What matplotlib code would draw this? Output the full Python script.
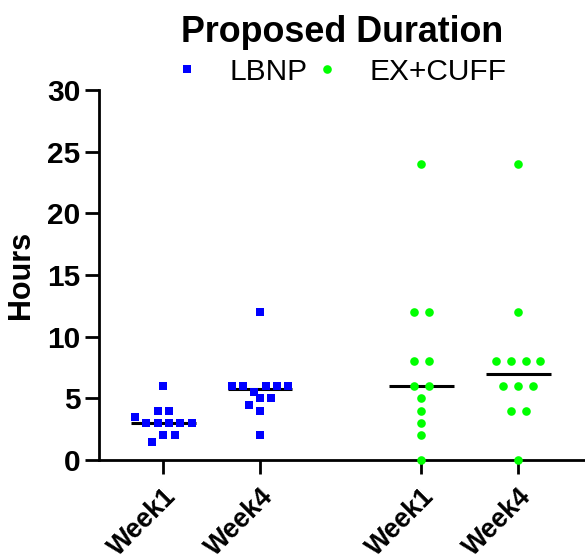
import numpy as np
import matplotlib
matplotlib.use("Agg")
import matplotlib.pyplot as plt
from matplotlib.transforms import ScaledTranslation

plt.rcParams['font.family'] = ['Liberation Sans', 'DejaVu Sans']

# ---- data ----
title = "Proposed Duration"
ylabel = "Hours"
categories = ["Week1", "Week4"]
series_names = ["LBNP", "EX+CUFF"]
lbnp_week1 = [6, 4, 4, 3.5, 3, 3, 3, 3, 3, 1.5, 2, 2]
lbnp_week4 = [12, 6, 6, 5.5, 6, 6, 6, 4.5, 5, 5, 4, 2]
excuff_week1 = [24, 12, 12, 8, 8, 6, 6, 5, 4, 3, 2, 0]
excuff_week4 = [24, 12, 8, 8, 8, 8, 6, 6, 6, 4, 4, 0]
yticks = [0, 5, 10, 15, 20, 25, 30]

series = [
    dict(name=series_names[0], groups=[lbnp_week1, lbnp_week4], color="#0000FF", marker="s", spacing=0.117),
    dict(name=series_names[1], groups=[excuff_week1, excuff_week4], color="#00FF00", marker="o", spacing=0.153),
]


def swarm_offsets(values, spacing, bin_h=0.8, origin=0.45):
    vals = np.asarray(values, dtype=float)
    bins = np.floor((vals - origin) / bin_h).astype(int)
    offs = np.zeros(len(vals))
    for b in np.unique(bins):
        idx = np.where(bins == b)[0]
        n = len(idx)
        offs[idx] = (np.arange(n) - (n - 1) / 2) * spacing
    return offs


W, H, DPI = 585, 558, 100
fig = plt.figure(figsize=(W / DPI, H / DPI), dpi=DPI)
ax = fig.add_axes([99 / W, 1 - 460 / H, 1 - 99 / W, (460 - 90) / H])

gap = 0.67
tick_pos, tick_lab = [], []
for si, s in enumerate(series):
    for gi, vals in enumerate(s["groups"]):
        pos = si * (len(categories) + gap) + gi
        tick_pos.append(pos)
        tick_lab.append(categories[gi])
        offs = swarm_offsets(vals, s["spacing"])
        med = np.median(vals)
        ax.hlines(med, pos - 0.335, pos + 0.335, color="black", lw=2.2, zorder=2)
        ax.plot(pos + offs, vals, linestyle="none", marker=s["marker"], markersize=6.2,
                markeredgewidth=0, color=s["color"], clip_on=False, zorder=4,
                label=s["name"] if gi == 0 else None)

ax.set_xlim(-0.665, 4.361)
ax.set_ylim(0, 30)
ax.set_yticks(yticks)
ax.set_xticks(tick_pos)
ax.set_xticklabels(tick_lab, rotation=45, ha="right", va="top", rotation_mode="anchor",
                   fontsize=19.3, fontweight="bold")
offset = ScaledTranslation(-2.7 / DPI, 0, fig.dpi_scale_trans)
for lab in ax.get_xticklabels():
    lab.set_transform(lab.get_transform() + offset)

for sp in ["top", "right"]:
    ax.spines[sp].set_visible(False)
for sp in ["left", "bottom"]:
    ax.spines[sp].set_linewidth(2)
ax.tick_params(axis="both", direction="out", length=10, width=2)
ax.tick_params(axis="y", labelsize=21.5, pad=3.5)
ax.tick_params(axis="x", pad=7.0)
for lab in ax.get_yticklabels():
    lab.set_fontweight("bold")

ax.set_ylabel(ylabel, fontsize=22, fontweight="bold", labelpad=7.6)
ax.set_title(title, fontsize=25.8, fontweight="bold", pad=34.5)

ax.legend(loc="center", bbox_to_anchor=(343 / W, 1 - 71.5 / H), bbox_transform=fig.transFigure,
          ncol=2, frameon=False, fontsize=21.5, numpoints=1, handlelength=0.5,
          handletextpad=1.17, columnspacing=0.4, borderpad=0)

fig.savefig("out.png", dpi=DPI)
